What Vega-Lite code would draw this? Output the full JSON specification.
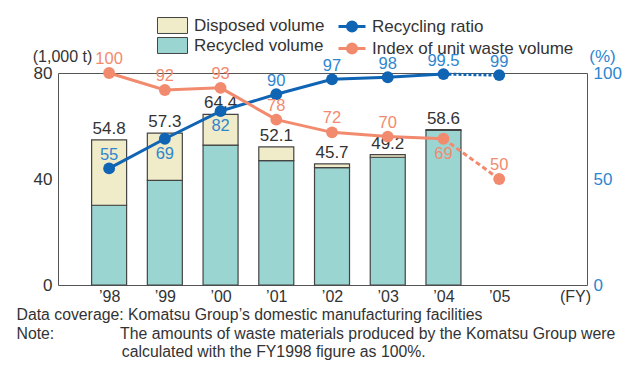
{
  "$schema": "https://vega.github.io/schema/vega-lite/v6.json",
  "autosize": {"type": "none"},
  "width": 529,
  "height": 212,
  "padding": {"left": 58, "top": 73, "right": 47, "bottom": 80},
  "background": "white",
  "config": {
    "font": "Liberation Sans",
    "view": {"stroke": "#555555", "strokeWidth": 1}
  },
  "title": {
    "text": [
      "Data coverage: Komatsu Group’s domestic manufacturing facilities",
      "Note:\u00a0\u00a0\u00a0\u00a0\u00a0\u00a0\u00a0\u00a0\u00a0\u00a0\u00a0\u00a0\u00a0\u00a0\u00a0The amounts of waste materials produced by the Komatsu Group were",
      "\u200b\u00a0\u00a0\u00a0\u00a0\u00a0\u00a0\u00a0\u00a0\u00a0\u00a0\u00a0\u00a0\u00a0\u00a0\u00a0\u00a0\u00a0\u00a0\u00a0\u00a0\u00a0\u00a0\u00a0\u00a0calculated with the FY1998 figure as 100%."
    ],
    "orient": "bottom",
    "anchor": "start",
    "frame": "group",
    "dx": -41.5,
    "offset": 4,
    "fontSize": 15.8,
    "fontWeight": "normal",
    "color": "#333333",
    "lineHeight": 18.5
  },
  "datasets": {
    "bars": [
      {"year": 1998, "type": "Recycled volume", "value": 30.1},
      {"year": 1998, "type": "Disposed volume", "value": 24.7},
      {"year": 1999, "type": "Recycled volume", "value": 39.5},
      {"year": 1999, "type": "Disposed volume", "value": 17.8},
      {"year": 2000, "type": "Recycled volume", "value": 52.8},
      {"year": 2000, "type": "Disposed volume", "value": 11.6},
      {"year": 2001, "type": "Recycled volume", "value": 46.9},
      {"year": 2001, "type": "Disposed volume", "value": 5.2},
      {"year": 2002, "type": "Recycled volume", "value": 44.3},
      {"year": 2002, "type": "Disposed volume", "value": 1.4},
      {"year": 2003, "type": "Recycled volume", "value": 48.2},
      {"year": 2003, "type": "Disposed volume", "value": 1.0},
      {"year": 2004, "type": "Recycled volume", "value": 58.3},
      {"year": 2004, "type": "Disposed volume", "value": 0.3}
    ],
    "totals": [
      {"year": 1998, "total": 54.8},
      {"year": 1999, "total": 57.3},
      {"year": 2000, "total": 64.4},
      {"year": 2001, "total": 52.1},
      {"year": 2002, "total": 45.7},
      {"year": 2003, "total": 49.2},
      {"year": 2004, "total": 58.6}
    ],
    "lines": [
      {"year": 1998, "series": "Recycling ratio", "value": 55},
      {"year": 1999, "series": "Recycling ratio", "value": 69},
      {"year": 2000, "series": "Recycling ratio", "value": 82},
      {"year": 2001, "series": "Recycling ratio", "value": 90},
      {"year": 2002, "series": "Recycling ratio", "value": 97},
      {"year": 2003, "series": "Recycling ratio", "value": 98},
      {"year": 2004, "series": "Recycling ratio", "value": 99.5},
      {"year": 2005, "series": "Recycling ratio", "value": 99},
      {"year": 1998, "series": "Index of unit waste volume", "value": 100},
      {"year": 1999, "series": "Index of unit waste volume", "value": 92},
      {"year": 2000, "series": "Index of unit waste volume", "value": 93},
      {"year": 2001, "series": "Index of unit waste volume", "value": 78},
      {"year": 2002, "series": "Index of unit waste volume", "value": 72},
      {"year": 2003, "series": "Index of unit waste volume", "value": 70},
      {"year": 2004, "series": "Index of unit waste volume", "value": 69},
      {"year": 2005, "series": "Index of unit waste volume", "value": 50}
    ]
  },
  "encoding": {
    "x": {
      "field": "year",
      "type": "quantitative",
      "scale": {"domain": [1997.1725, 2006.486], "nice": false, "zero": false},
      "axis": {
        "values": [1998, 1999, 2000, 2001, 2002, 2003, 2004, 2005],
        "labelExpr": "'\u2019' + slice(toString(datum.value), 2)",
        "labelFontSize": 16,
        "labelColor": "#333333",
        "labelPadding": 3,
        "ticks": false,
        "domain": false,
        "grid": false,
        "title": "(FY)",
        "titleFontSize": 16,
        "titleFontWeight": "normal",
        "titleColor": "#333333",
        "titleX": 517,
        "titleY": 3,
        "titleAlign": "center",
        "titleBaseline": "top"
      }
    }
  },
  "layer": [
    {
      "layer": [
        {
          "mark": {"type": "rule", "color": "#2a78c4", "strokeWidth": 2, "strokeDash": [2, 3]},
          "encoding": {"y": {"datum": 40, "type": "quantitative"}}
        },
        {
          "data": {"name": "bars"},
          "mark": {"type": "bar", "width": 35, "stroke": "#444444", "strokeWidth": 1.2},
          "encoding": {
            "y": {"field": "value", "type": "quantitative", "stack": "zero"},
            "fill": {
              "field": "type",
              "type": "nominal",
              "scale": {"domain": ["Disposed volume", "Recycled volume"], "range": ["#f0ebc8", "#9ad5d2"]},
              "legend": {
                "orient": "none",
                "legendX": 104.5,
                "legendY": -57.5,
                "title": null,
                "padding": 0,
                "symbolType": "M-1.58,-0.84H1.58V0.84H-1.58Z",
                "symbolSize": 361,
                "symbolStrokeColor": "#444444",
                "symbolStrokeWidth": 1,
                "symbolOpacity": 1,
                "labelFontSize": 17,
                "labelColor": "#333333",
                "labelOffset": 11.5,
                "labelLimit": 400,
                "rowPadding": -2
              }
            },
            "order": {"field": "type", "sort": "descending"}
          }
        },
        {
          "data": {"name": "totals"},
          "mark": {"type": "text", "fontSize": 17, "color": "#333333", "baseline": "bottom", "dy": -2},
          "encoding": {
            "y": {"field": "total", "type": "quantitative"},
            "text": {"field": "total", "type": "nominal"}
          }
        }
      ],
      "encoding": {
        "y": {
          "type": "quantitative",
          "scale": {"domain": [0, 80], "nice": false},
          "axis": {
            "values": [0, 40, 80],
            "labelFontSize": 17,
            "labelColor": "#333333",
            "labelPadding": 6,
            "ticks": false,
            "domain": false,
            "grid": false,
            "title": "(1,000 t)",
            "titleAngle": 0,
            "titleFontSize": 16,
            "titleFontWeight": "normal",
            "titleColor": "#333333",
            "titleX": 4,
            "titleY": -17,
            "titleAlign": "center",
            "titleBaseline": "middle"
          }
        }
      }
    },
    {
      "data": {"name": "lines"},
      "layer": [
        {
          "transform": [{"filter": "datum.year <= 2004"}],
          "mark": {"type": "line", "strokeWidth": 3},
          "encoding": {
            "color": {"field": "series", "type": "nominal", "scale": {"domain": ["Recycling ratio", "Index of unit waste volume"], "range": ["#0f64b4", "#f28a6e"]}}
          }
        },
        {
          "transform": [{"filter": "datum.year >= 2004 && datum.series == 'Recycling ratio'"}],
          "mark": {"type": "line", "strokeWidth": 3, "strokeDash": [3, 2], "color": "#0f64b4"},
          "encoding": {}
        },
        {
          "transform": [{"filter": "datum.year >= 2004 && datum.series == 'Index of unit waste volume'"}],
          "mark": {"type": "line", "strokeWidth": 3, "strokeDash": [5, 3], "color": "#f28a6e"},
          "encoding": {}
        },
        {
          "mark": {"type": "point", "filled": true, "size": 140, "opacity": 1},
          "encoding": {
            "color": {
              "field": "series",
              "type": "nominal",
              "scale": {"domain": ["Recycling ratio", "Index of unit waste volume"], "range": ["#0f64b4", "#f28a6e"]},
              "legend": {
                "orient": "none",
                "legendX": 283,
                "legendY": -57.5,
                "title": null,
                "padding": 0,
                "symbolType": "M-1.42,0H1.42M-0.474,0A0.474,0.474,0,1,0,0.474,0A0.474,0.474,0,1,0,-0.474,0M-0.316,0A0.316,0.316,0,1,0,0.316,0A0.316,0.316,0,1,0,-0.316,0M-0.158,0A0.158,0.158,0,1,0,0.158,0A0.158,0.158,0,1,0,-0.158,0M-0.05,0A0.05,0.05,0,1,0,0.05,0A0.05,0.05,0,1,0,-0.05,0",
                "symbolSize": 361,
                "symbolStrokeWidth": 3,
                "symbolOpacity": 1,
                "labelFontSize": 17,
                "labelColor": "#333333",
                "labelOffset": 9,
                "labelLimit": 400,
                "rowPadding": -2
              }
            }
          }
        },
        {
          "transform": [{"filter": "datum.series == 'Recycling ratio' && datum.year != 1999 && datum.year != 2000"}],
          "mark": {"type": "text", "fontSize": 16.5, "color": "#2e86cf", "baseline": "middle", "dy": -13.5},
          "encoding": {"text": {"field": "value", "type": "nominal"}}
        },
        {
          "transform": [{"filter": "datum.series == 'Recycling ratio' && (datum.year == 1999 || datum.year == 2000)"}],
          "mark": {"type": "text", "fontSize": 16.5, "color": "#2e86cf", "baseline": "middle", "dy": 15},
          "encoding": {"text": {"field": "value", "type": "nominal"}}
        },
        {
          "transform": [{"filter": "datum.series == 'Index of unit waste volume' && datum.year != 2004"}],
          "mark": {"type": "text", "fontSize": 16.5, "color": "#f28a6e", "baseline": "middle", "dy": -14},
          "encoding": {"text": {"field": "value", "type": "nominal"}}
        },
        {
          "transform": [{"filter": "datum.series == 'Index of unit waste volume' && datum.year == 2004"}],
          "mark": {"type": "text", "fontSize": 16.5, "color": "#f28a6e", "baseline": "middle", "dy": 15},
          "encoding": {"text": {"field": "value", "type": "nominal"}}
        }
      ],
      "encoding": {
        "y": {
          "field": "value",
          "type": "quantitative",
          "scale": {"domain": [0, 100], "nice": false},
          "axis": {
            "orient": "right",
            "values": [0, 50, 100],
            "labelFontSize": 17,
            "labelColor": "#2e86cf",
            "labelPadding": 6,
            "ticks": false,
            "domain": false,
            "grid": false,
            "title": "(%)",
            "titleAngle": 0,
            "titleFontSize": 17,
            "titleFontWeight": "normal",
            "titleColor": "#2e86cf",
            "titleX": 15,
            "titleY": -17,
            "titleAlign": "center",
            "titleBaseline": "middle"
          }
        }
      }
    }
  ],
  "resolve": {"scale": {"y": "independent", "fill": "independent", "color": "independent"}}
}
